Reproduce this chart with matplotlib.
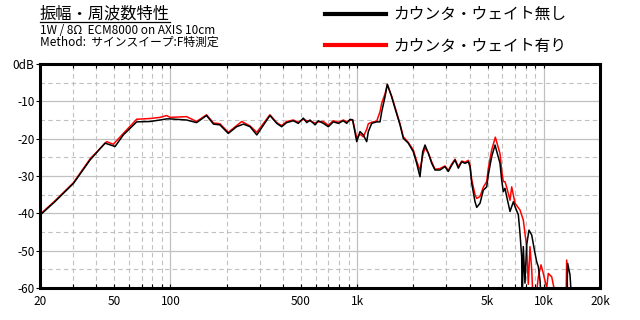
import matplotlib
matplotlib.use('Agg')
import matplotlib.pyplot as plt
from matplotlib.lines import Line2D
from matplotlib.ticker import LogLocator, MultipleLocator, FuncFormatter

plt.rcParams['font.family'] = ['Noto Sans CJK JP', 'DejaVu Sans']

# カウンタ・ウェイト無し (black)
freq_black = [20, 24.0, 30.2, 37.1, 44.6, 50.5, 55.9, 65.9, 77.7, 87.9, 95.4,
              99.4, 122, 138, 156, 170, 184, 204, 226, 246, 267, 290, 341, 371, 394, 419,
              455, 484, 515, 537, 559, 595, 619, 659, 701, 745, 793, 843, 879, 916, 946,
              995, 1036, 1079, 1125, 1148, 1197, 1273, 1326, 1354, 1410, 1451, 1531, 1596,
              1697, 1767, 1879, 1999, 2084, 2171, 2245, 2310, 2406, 2508, 2613, 2778, 2955,
              3079, 3211, 3345, 3483, 3632, 3784, 3942, 4024, 4110, 4281, 4372, 4552, 4742,
              4944, 5042, 5258, 5477, 5824, 5948, 6067, 6194, 6325, 6592, 6868, 7010, 7305,
              7456, 7611, 7660, 7765, 7926, 8092, 8328, 8612, 8972, 9161, 9345, 9542, 9742,
              13258, 13424, 13816, 14158]
db_black = [-40.5, -36.9, -32.0, -25.7, -21.2, -22.1, -19.0, -15.5, -15.4, -15.0, -14.7,
            -14.7, -15.0, -15.7, -13.8, -16.1, -16.3, -18.6, -16.8, -16.1, -16.8, -19.0, -13.8, -15.9, -16.8, -15.7,
            -15.2, -15.9, -14.5, -15.7, -15.0, -16.3, -15.2, -15.9, -16.8, -15.5, -15.9, -15.2, -15.9, -14.8, -15.0,
            -20.8, -18.1, -19.0, -20.8, -18.1, -15.9, -15.5, -15.5, -12.8, -8.8, -5.4, -8.8, -11.9,
            -16.3, -19.9, -21.2, -23.5, -26.6, -30.2, -23.5, -21.7, -23.9, -26.6, -28.4, -28.4, -27.5,
            -28.8, -27.1, -25.7, -27.9, -26.2, -26.6, -26.2, -27.5, -32.0, -36.9, -38.4, -37.3, -33.8,
            -32.9, -29.7, -24.8, -21.7, -26.6, -31.1, -34.2, -33.3, -35.5, -39.5, -36.9, -38.2, -40.4,
            -45.4, -51.6, -65.0, -48.9, -58.7, -48.5, -44.5, -45.8, -50.7, -53.0, -54.3, -57.9, -65.0,
            -65.0, -53.4, -56.5, -65.0]

# カウンタ・ウェイト有り (red)
freq_red = [20, 24.0, 30.2, 37.1, 45.5, 49.4, 55.9, 65.9, 77.7, 87.9, 95.4,
            99.4, 122, 138, 156, 170, 184, 204, 241, 267, 290, 341, 371, 394, 419,
            455, 484, 515, 537, 559, 595, 619, 659, 701, 745, 793, 843, 879, 916, 946,
            995, 1036, 1079, 1125, 1148, 1197, 1273, 1326, 1354, 1410, 1451, 1531, 1596,
            1697, 1767, 1879, 1999, 2084, 2171, 2245, 2310, 2406, 2508, 2613, 2778, 2955,
            3079, 3211, 3345, 3483, 3632, 3784, 3942, 4024, 4110, 4281, 4372, 4552, 4742,
            4944, 5042, 5258, 5500, 5824, 5948, 6067, 6194, 6325, 6592, 6730, 7010, 7456,
            7765, 8092, 8260, 8432, 8612, 8787, 9161, 9345, 9661, 9938, 10362, 10570, 11022,
            11339, 11766, 13148, 13258, 13478]
db_red = [-40.3, -36.7, -31.8, -25.4, -20.8, -21.5, -18.6, -14.8, -14.6, -14.3, -13.8,
          -14.3, -14.1, -15.4, -13.6, -15.8, -16.0, -18.3, -15.4, -16.6, -18.3, -13.6, -15.7, -16.5, -15.4,
          -15.0, -15.6, -14.8, -15.2, -15.3, -15.8, -15.5, -15.4, -16.4, -15.2, -15.6, -15.0, -15.5, -15.1, -14.9,
          -19.8, -18.8, -19.5, -17.5, -16.0, -15.6, -15.3, -12.8, -10.5, -8.0, -5.6, -8.6, -11.6,
          -16.0, -19.5, -21.0, -23.0, -26.0, -28.5, -24.5, -22.5, -23.8, -26.2, -28.2, -28.0, -27.3,
          -28.5, -26.8, -25.5, -27.5, -26.0, -26.3, -25.8, -27.0, -31.0, -35.0, -36.0, -35.5, -33.0,
          -31.5, -28.0, -23.0, -19.6, -24.0, -28.5, -31.5, -31.5, -33.0, -36.5, -32.9, -37.3, -39.1,
          -41.8, -48.9, -59.0, -48.9, -55.0, -65.0, -61.0, -57.0, -53.8, -56.1, -60.0, -56.1, -57.0,
          -60.0, -65.0, -65.0, -52.5, -65.0]

xtick_labels = {20: '20', 50: '50', 100: '100', 500: '500', 1000: '1k',
                5000: '5k', 10000: '10k', 20000: '20k'}
ytick_values = [0, -10, -20, -30, -40, -50, -60]
ytick_labels = ['0dB', '-10', '-20', '-30', '-40', '-50', '-60']

fig = plt.figure(figsize=(6.4, 3.2), dpi=100)
ax = fig.add_axes([40/640, 1-288/320, 560/640, 224/320])

ax.plot(freq_red, db_red, color='#ff0000', lw=1.1, label='カウンタ・ウェイト有り', zorder=3)
ax.plot(freq_black, db_black, color='#000000', lw=1.1, label='カウンタ・ウェイト無し', zorder=4)

ax.set_xscale('log')
ax.set_xlim(20, 20000)
ax.set_ylim(-60, 0)

ax.xaxis.set_major_locator(LogLocator(base=10))
ax.xaxis.set_minor_locator(LogLocator(base=10, subs=range(2, 10)))
fmt = FuncFormatter(lambda v, p: xtick_labels.get(int(round(v)), ''))
ax.xaxis.set_major_formatter(fmt)
ax.xaxis.set_minor_formatter(fmt)
ax.set_yticks(ytick_values)
ax.set_yticklabels(ytick_labels)
ax.yaxis.set_minor_locator(MultipleLocator(5))

ax.grid(True, which='major', color='#c0c0c0', lw=0.9, ls='-')
ax.grid(True, which='minor', color='#c0c0c0', lw=0.8, ls=(0, (4, 3)))
ax.set_axisbelow(True)

for s in ax.spines.values():
    s.set_linewidth(2.2)
    s.set_zorder(6)
ax.tick_params(axis='x', which='both', direction='in', top=True, bottom=True,
               length=3, width=0.8, labelsize=8.5, pad=5)
ax.tick_params(axis='y', which='major', direction='out', length=3, width=0.8,
               labelsize=8.5, pad=1)
ax.tick_params(axis='y', which='minor', length=0)

handles, labels = ax.get_legend_handles_labels()
leg = ax.legend(handles[::-1], labels[::-1], loc='upper left',
                bbox_to_anchor=(325/640, 1-6/320), bbox_transform=fig.transFigure,
                frameon=False, fontsize=11.3, handlelength=3.9, handletextpad=0.45,
                labelspacing=0.95, borderpad=0, borderaxespad=0)
for ln in leg.get_lines():
    ln.set_linewidth(3)

title = fig.text(40/640, 1-14/320, '振幅・周波数特性', fontsize=11.7, va='center', ha='left')
fig.text(40/640, 1-30.5/320, '1W / 8Ω  ECM8000 on AXIS 10cm', fontsize=8.5, va='center', ha='left')
fig.text(40/640, 1-42.5/320, 'Method:  サインスイープ:F特測定', fontsize=8.5, va='center', ha='left')

fig.canvas.draw()
bb = title.get_window_extent().transformed(fig.transFigure.inverted())
fig.add_artist(Line2D([bb.x0, bb.x1], [1-21.5/320, 1-21.5/320], color='black', lw=0.9,
                      transform=fig.transFigure))

fig.savefig('out.png', dpi=100)
